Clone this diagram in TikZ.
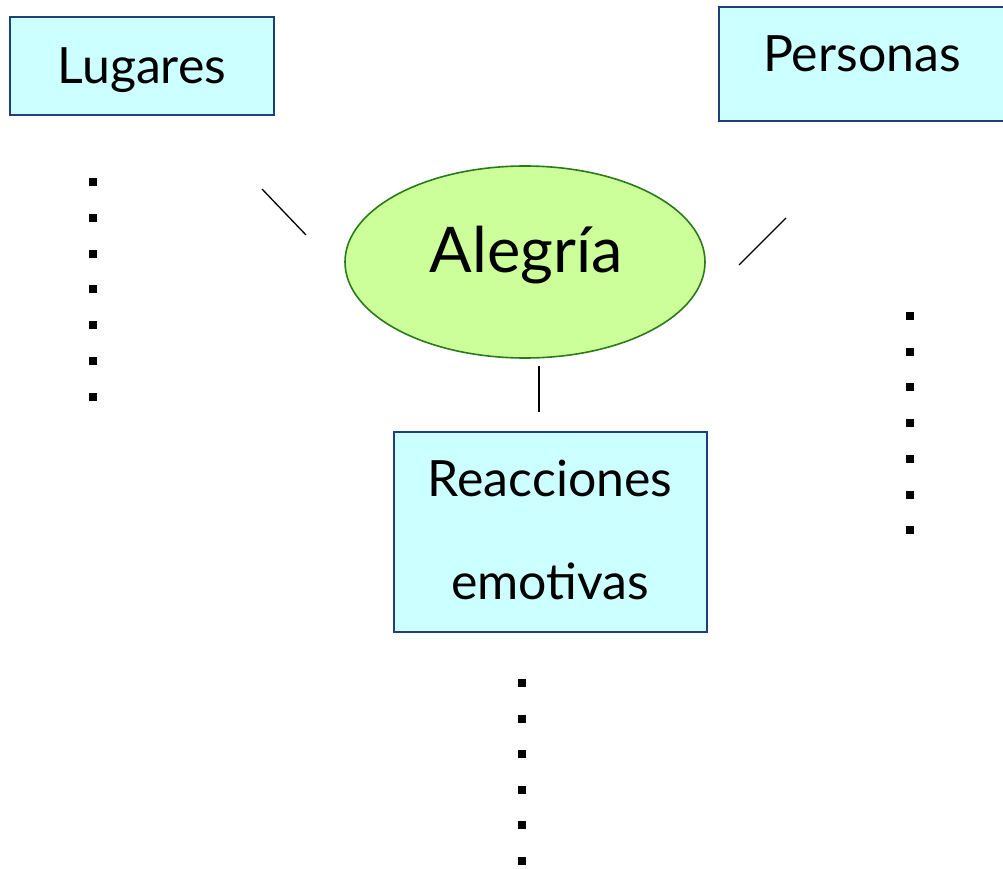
\documentclass[tikz,border=0pt]{standalone}
\usepackage{fontspec}
\setmainfont{Lato}
\usetikzlibrary{shapes.geometric}
\definecolor{boxfill}{HTML}{CCFFFF}
\definecolor{boxline}{HTML}{1F3F78}
\definecolor{ellfill}{HTML}{CCFF99}
\definecolor{ellline}{HTML}{2A7A1A}
\tikzset{
  box/.style={draw=boxline, line width=1.6pt, fill=boxfill},
  lbl/.style={anchor=base, inner sep=0pt, font=\fontsize{50}{50}\selectfont},
  conn/.style={draw=black, line width=1.3pt},
  dot/.style={fill=black, minimum size=8pt, inner sep=0pt, draw=none, rectangle},
}
\begin{document}
\begin{tikzpicture}[x=1pt,y=-1pt]
\useasboundingbox (0,0) rectangle (1003,869);
\clip (0,0) rectangle (1003,869);
% boxes
\draw[box] (10,17) rectangle (274,115);
\node[lbl] (lug) at (142,84) {Lugares};
\draw[box] (719,7) rectangle (1012,121);
\node[lbl] (per) at (862,72) {Personas};
\draw[box] (394,432) rectangle (707,632);
\node[lbl] (rea) at (550,496) {Reacciones};
\node[lbl] (emo) at (550,599) {emotivas};
% ellipse
\node[ellipse, draw=ellline, line width=1.6pt, fill=ellfill, minimum width=360pt, minimum height=192pt, inner sep=0pt] (ale) at (525,262) {};
\node[anchor=base, inner sep=0pt, font=\fontsize{63}{63}\selectfont] (aletxt) at (526,272) {Alegría};
% connectors
\coordinate (l1) at (262,189); \coordinate (l2) at (306,235);
\coordinate (r1) at (739,265); \coordinate (r2) at (786,218);
\coordinate (b1) at (539,366); \coordinate (b2) at (539,412);
\draw[conn] (l1) -- (l2);
\draw[conn] (r1) -- (r2);
\draw[conn] (b1) -- (b2);
% dots
\foreach \i in {0,...,6} {
  \node[dot] (dl\i) at (93,182+35.8*\i) {};
  \node[dot] (dr\i) at (910,316+35.7*\i) {};
}
\foreach \i in {0,...,5} {
  \node[dot] (db\i) at (522,683+35.6*\i) {};
}
\end{tikzpicture}
\end{document}
